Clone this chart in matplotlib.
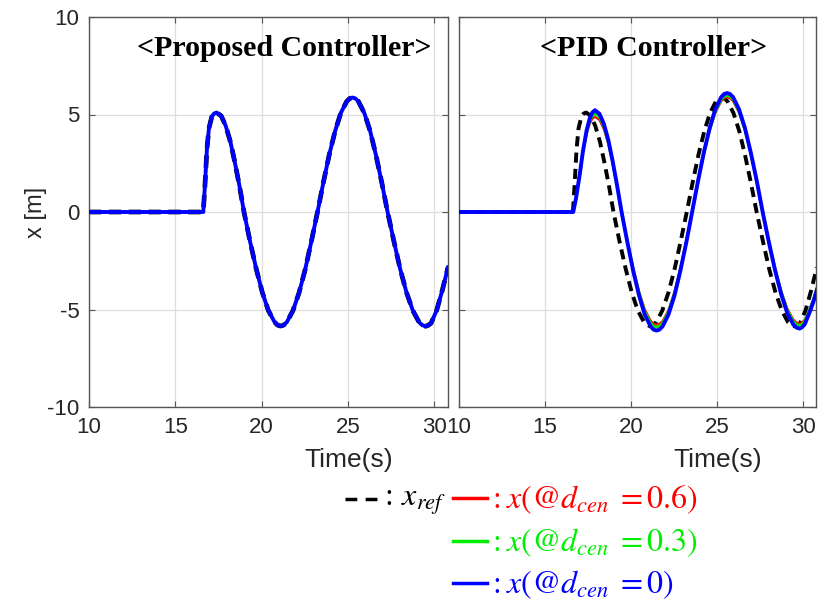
import matplotlib
matplotlib.use("Agg")
import matplotlib.pyplot as plt
from matplotlib.lines import Line2D

# ---------------- data ----------------
# reference trajectory x_ref (also tracked almost exactly by the proposed controller)
t_ref = [10, 16.62, 16.72, 16.83, 16.95, 17.12, 17.25,
         17.39, 17.66, 17.92, 18.19, 18.45, 18.72,
         18.98, 19.33, 19.69, 20.04, 20.39, 20.75, 20.92,
         21.1, 21.28, 21.46, 21.81, 22.17, 22.53, 22.88,
         23.24, 23.58, 23.92, 24.26, 24.59, 24.93, 25.1,
         25.27, 25.44, 25.61, 25.95, 26.29, 26.62, 26.96,
         27.3, 27.67, 28.03, 28.4, 28.77, 29.13, 29.32,
         29.5, 29.66, 29.82, 30.14, 30.46, 30.8]
x_ref = [0, 0, 1.4, 3.2, 4.3, 4.9, 5.05,
         5.1, 4.93, 4.42, 3.61, 2.55, 1.32,
         0, -1.51, -2.92, -4.12, -5.05, -5.64, -5.8,
         -5.85, -5.8, -5.65, -5.07, -4.14, -2.93, -1.52,
         0, 1.52, 2.94, 4.15, 5.08, 5.67, 5.82,
         5.87, 5.82, 5.67, 5.08, 4.15, 2.94, 1.52,
         0, -1.52, -2.93, -4.14, -5.07, -5.66, -5.81,
         -5.86, -5.81, -5.7, -5.05, -4.05, -2.84]

# proposed controller responses (visually identical to x_ref)
prop_d06 = x_ref
prop_d03 = x_ref
prop_d00 = x_ref

# PID controller responses
t_pid = [10, 16.64, 16.8, 17.03, 17.2, 17.42, 17.6, 17.75,
         17.9, 18.16, 18.42, 18.68, 18.93, 19.19,
         19.45, 19.79, 20.13, 20.47, 20.8, 21.14, 21.31,
         21.48, 21.65, 21.83, 22.17, 22.52, 22.86, 23.21,
         23.55, 23.89, 24.23, 24.57, 24.9, 25.24, 25.41,
         25.58, 25.75, 25.93, 26.27, 26.62, 26.96, 27.31,
         27.65, 28.01, 28.37, 28.73, 29.08, 29.44, 29.62,
         29.8, 29.95, 30.1, 30.4, 30.6, 30.8]
pid_d00 = [0, 0, 0.7, 2.0, 3.1, 4.2, 4.8, 5.1,
           5.22, 5.04, 4.52, 3.69, 2.61, 1.35,
           0, -1.57, -3.04, -4.30, -5.27, -5.87, -6.03,
           -6.08, -6.03, -5.87, -5.27, -4.30, -3.04, -1.57,
           0, 1.58, 3.05, 4.31, 5.28, 5.89, 6.05,
           6.1, 6.05, 5.89, 5.28, 4.31, 3.05, 1.58,
           0, -1.55, -2.99, -4.23, -5.18, -5.78, -5.93,
           -5.98, -5.9, -5.75, -5.1, -4.6, -4.0]
pid_d03 = [0, 0, 0.7, 2.0, 3.05, 4.1, 4.66, 4.93,
           5.05, 4.88, 4.38, 3.58, 2.54, 1.33,
           0.02, -1.52, -2.95, -4.17, -5.11, -5.69, -5.85,
           -5.9, -5.85, -5.7, -5.12, -4.18, -2.96, -1.53,
           0.0, 1.54, 2.98, 4.21, 5.16, 5.76, 5.92,
           5.97, 5.92, 5.77, 5.17, 4.23, 3.0, 1.57,
           0.02, -1.5, -2.9, -4.11, -5.03, -5.62, -5.77,
           -5.82, -5.75, -5.6, -4.97, -4.49, -3.92]
pid_d06 = [0, 0, 0.7, 2.0, 3.0, 4.0, 4.52, 4.78,
           4.88, 4.72, 4.24, 3.47, 2.47, 1.3,
           0.05, -1.48, -2.88, -4.08, -5.0, -5.57, -5.73,
           -5.78, -5.73, -5.6, -5.03, -4.1, -2.9, -1.48,
           0.03, 1.52, 2.94, 4.15, 5.08, 5.67, 5.83,
           5.88, 5.83, 5.68, 5.1, 4.17, 2.96, 1.56,
           0.04, -1.47, -2.85, -4.04, -4.95, -5.52, -5.67,
           -5.72, -5.65, -5.52, -4.91, -4.44, -3.88]

x_ticks = [10, 15, 20, 25, 30]
y_ticks = [-10, -5, 0, 5, 10]
titles = ["<Proposed Controller>", "<PID Controller>"]
legend_labels = [r"$:\,x_{ref}$",
                 r"$:x\left(@d_{cen}\;=0.6\right)$",
                 r"$:x\left(@d_{cen}\;=0.3\right)$",
                 r"$:x\left(@d_{cen}\;=0\right)$"]

RED, GREEN, BLUE = "#ff0000", "#00ee00", "#0000ff"

# ---------------- figure ----------------
plt.rcParams['font.family'] = ['Liberation Sans', 'DejaVu Sans']
plt.rcParams['axes.unicode_minus'] = False
W, H = 818, 604
fig = plt.figure(figsize=(W / 100, H / 100), dpi=100)


def px_box(x0, x1, ytop, ybot):
    return [x0 / W, 1 - ybot / H, (x1 - x0) / W, (ybot - ytop) / H]


ax1 = fig.add_axes(px_box(89, 448, 17, 407))
ax2 = fig.add_axes(px_box(459, 816, 17, 407))

dash = (0, (2.6, 1.6))
ax1.plot(t_ref, x_ref, color="black", lw=3.4, ls=dash, zorder=2)
ax1.plot(t_ref, prop_d06, color=RED, lw=1.5, zorder=3)
ax1.plot(t_ref, prop_d03, color=GREEN, lw=2.0, zorder=4)
ax1.plot(t_ref, prop_d00, color=BLUE, lw=2.8, zorder=5)

ax2.plot(t_ref, x_ref, color="black", lw=2.8, ls=dash, zorder=2)
ax2.plot(t_pid, pid_d06, color=RED, lw=1.5, zorder=3)
ax2.plot(t_pid, pid_d03, color=GREEN, lw=2.0, zorder=4)
ax2.plot(t_pid, pid_d00, color=BLUE, lw=2.8, zorder=5)

for ax, xr, title in [(ax1, 30.8, titles[0]), (ax2, 30.75, titles[1])]:
    ax.set_xlim(10, xr)
    ax.set_ylim(-10, 10)
    ax.set_xticks(x_ticks)
    ax.set_yticks(y_ticks)
    ax.grid(True, color="#dedede", lw=0.9)
    ax.set_axisbelow(True)
    ax.tick_params(direction="in", top=True, right=True, length=4,
                   color="#555555", labelsize=16, labelcolor="#262626", pad=7)
    for s in ax.spines.values():
        s.set_color("#555555")
        s.set_linewidth(1.0)
    ax.set_xlabel("Time(s)", fontsize=19, color="#262626")
    ax.xaxis.set_label_coords(0.724, -0.105)
    ax.text(0.545, 0.955, title, transform=ax.transAxes, ha="center", va="top",
            fontsize=21.5, fontweight="bold", family=["Liberation Serif", "DejaVu Serif"])

ax2.tick_params(labelleft=False)
ax1.set_ylabel("x [m]", fontsize=17, color="#262626", labelpad=0)

# ---------------- custom legend ----------------
def fx(p):
    return p / W


def fy(p):
    return 1 - p / H


fig.add_artist(Line2D([fx(345), fx(378)], [fy(499), fy(499)], color="black",
                      lw=2.5, ls=(0, (3.4, 2.4)), transform=fig.transFigure))
fig.text(fx(380), fy(502), legend_labels[0], fontsize=23, color="black",
         va="center", ha="left", math_fontfamily="stix")

rows = [(498, RED, legend_labels[1]), (541, GREEN, legend_labels[2]),
        (583, BLUE, legend_labels[3])]
for y, c, lab in rows:
    fig.add_artist(Line2D([fx(453), fx(487)], [fy(y), fy(y)], color=c, lw=2.5,
                          transform=fig.transFigure))
    fig.text(fx(488), fy(y + 2), lab, fontsize=23, color=c, va="center",
             ha="left", math_fontfamily="stix")

fig.savefig("out.png", dpi=100)
